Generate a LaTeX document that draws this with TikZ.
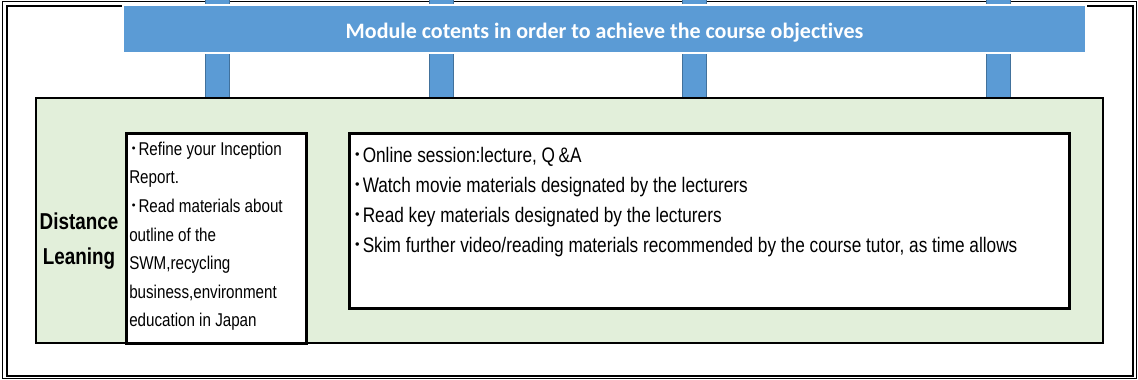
\documentclass[tikz,border=0pt]{standalone}
\usepackage{fontspec}
\setmainfont{Liberation Sans}
\newfontfamily\narrowfont[FakeStretch=0.82]{Liberation Sans}
\newfontfamily\titlefont[Ligatures={NoCommon}]{Carlito}
\newfontfamily\cjk{Noto Sans CJK JP}
\usetikzlibrary{backgrounds}

\definecolor{barblue}{RGB}{91,155,213}
\definecolor{stubline}{RGB}{65,113,156}
\definecolor{leafgreen}{RGB}{226,239,218}
\newcommand{\dotmark}{{\cjk ･}}

\begin{document}
\begin{tikzpicture}[x=1pt,y=-1pt,
  stub/.style={draw=stubline,line width=1pt,double=barblue,double distance=23pt},
  title bar/.style={rectangle,fill=barblue,draw=white,line width=2.5pt,
  text=white,font=\titlefont\bfseries\fontsize{22}{26}\selectfont},
  task box/.style={rectangle,fill=white,draw=black,line width=2.5pt,
  anchor=north west,inner xsep=3pt,inner ysep=0pt}]

  \useasboundingbox (0,0) rectangle (1138,380);

  \node[title bar,minimum width=963pt,minimum height=48pt] (bar) at (604.5,29)
    {\raisebox{-3.5pt}[16pt][5pt]{Module cotents in order to achieve the course objectives}};
  \node[rectangle,draw=black,fill=leafgreen,line width=1.5pt,
    minimum width=1067pt,minimum height=245pt] (green) at (569.5,220.5) {};

  \node[font=\narrowfont\bfseries\fontsize{23}{35}\selectfont,align=center]
    (label) at (79,241) {Distance\\Leaning};

  %Preparation before the online sessions
  \node[task box] (prep) at (125,132)
    {\parbox[t][210pt][t]{174pt}{\narrowfont\fontsize{18.5}{28.6}\selectfont
    \rule{0pt}{22pt}\dotmark Refine your Inception\\
    Report.\\
    \dotmark Read materials about\\
    outline of the\\
    SWM,recycling\\
    business,environment\\
    education in Japan}};

  %Online part of the module
  \node[task box] (online) at (348,132)
    {\parbox[t][175pt][t]{714pt}{\narrowfont\fontsize{21}{30}\selectfont
    \rule{0pt}{29pt}\dotmark Online session:lecture, Q\,\&A\\
    \dotmark Watch movie materials designated by the lecturers\\
    \dotmark Read key materials designated by the lecturers\\
    \dotmark Skim further video/reading materials recommended by the course tutor, as time allows}};

  \begin{scope}[on background layer]
    %Double frame round the whole sheet
    \draw[line width=1pt] (2,1.5) rectangle (1136,378);
    \draw[line width=2pt] (7,5.5) rectangle (1133,376);

    %Stubs joining the title bar to the module box
    \foreach \x/\n in {217.5/a,441.5/b,694.5/c,998/d} {
      \coordinate (s\n) at (\x,-1);
      \draw[stub] (s\n) -- (s\n |- green.north);
    }
  \end{scope}

\end{tikzpicture}
\end{document}
